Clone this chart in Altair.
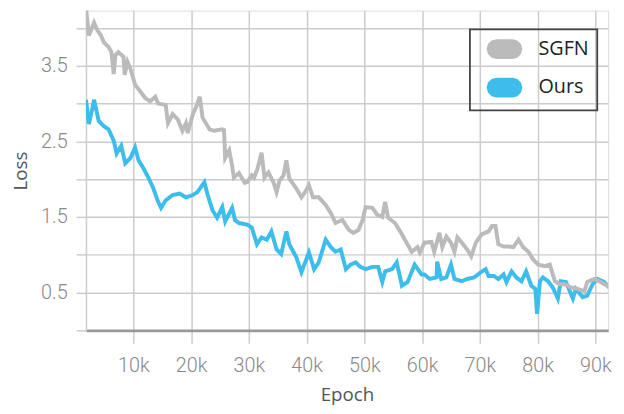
import altair as alt
import pandas as pd

# SGFN series (epoch in thousands, loss)
sgfn_epoch = [1.8, 2.3, 3.2, 3.7, 4.4, 4.9, 5.7, 6.2, 6.6, 6.9, 7.4, 8.3, 8.5, 9.0, 9.5, 10.3, 11.2, 12.1, 12.9, 13.8,
              14.3, 15.1, 15.6, 16.0, 16.8, 17.7, 18.5, 19.1, 19.4, 20.3, 20.9, 21.5, 22.0, 23.2, 24.0, 25.4, 25.7, 25.9,
              26.6, 27.1, 27.4, 28.3, 29.3, 29.7, 30.5, 30.9, 31.5, 32.2, 32.7, 33.4, 34.3, 34.8, 35.3, 36.0, 36.5, 37.0,
              38.2, 39.1, 39.9, 40.4, 41.1, 42.1, 43.3, 44.2, 45.0, 46.2, 47.3, 48.1, 49.0, 49.7, 50.2, 51.4, 52.2, 53.1,
              53.6, 54.1, 55.3, 56.2, 57.0, 58.2, 59.2, 59.6, 60.4, 61.6, 62.1, 63.0, 63.5, 64.2, 65.0, 65.6, 66.1, 66.9,
              67.8, 68.5, 69.3, 70.3, 71.5, 72.1, 72.7, 73.2, 74.1, 75.0, 75.8, 76.7, 77.5, 78.4, 79.2, 80.1, 81.3, 82.1,
              83.0, 83.8, 84.7, 85.7, 86.9, 88.1, 88.6, 89.8, 90.9, 92.1, 93.2]
sgfn_loss = [4.27, 3.90, 4.07, 3.98, 3.90, 3.81, 3.75, 3.68, 3.39, 3.64, 3.68, 3.62, 3.38, 3.55, 3.46, 3.25, 3.16, 3.07, 3.03, 3.09,
             3.00, 2.99, 2.98, 2.74, 2.86, 2.79, 2.64, 2.74, 2.61, 2.86, 2.96, 3.09, 2.81, 2.66, 2.64, 2.66, 2.65, 2.28,
             2.38, 2.18, 2.02, 2.08, 1.95, 1.96, 2.05, 2.02, 2.14, 2.35, 2.02, 2.09, 1.95, 1.83, 1.98, 2.05, 2.25, 2.01,
             1.88, 1.76, 1.85, 1.92, 1.76, 1.76, 1.66, 1.55, 1.42, 1.46, 1.33, 1.29, 1.33, 1.46, 1.63, 1.62, 1.53, 1.50,
             1.70, 1.49, 1.42, 1.31, 1.20, 1.04, 1.10, 1.03, 1.16, 1.17, 1.04, 1.29, 1.10, 1.24, 1.16, 1.04, 1.23, 1.16,
             1.07, 0.98, 1.16, 1.27, 1.31, 1.38, 1.38, 1.14, 1.11, 1.11, 1.10, 1.20, 1.10, 1.04, 0.94, 0.87, 0.85, 0.87,
             0.65, 0.61, 0.61, 0.57, 0.55, 0.52, 0.64, 0.68, 0.64, 0.59, 0.57]

# Ours series
ours_epoch = [1.8, 2.3, 2.8, 3.2, 4.0, 4.9, 5.7, 6.6, 7.1, 7.9, 8.6, 9.5, 10.3, 10.9, 11.7, 12.6, 13.4, 14.3, 14.8, 15.6,
              16.8, 18.0, 19.1, 20.3, 21.1, 22.3, 22.8, 23.7, 24.5, 25.4, 25.9, 27.1, 27.6, 28.3, 29.7, 30.5, 31.4, 32.2,
              33.1, 33.9, 34.8, 35.6, 36.5, 37.0, 38.2, 39.1, 39.6, 40.4, 41.3, 42.1, 43.3, 44.2, 45.0, 45.9, 46.8, 47.6,
              48.5, 49.3, 50.2, 51.4, 52.4, 53.1, 53.6, 54.8, 55.6, 56.5, 57.5, 58.7, 59.9, 60.4, 61.3, 62.5, 62.6, 63.3,
              64.2, 65.0, 65.6, 66.8, 67.8, 69.0, 70.2, 71.0, 71.5, 72.4, 73.2, 74.1, 74.6, 75.5, 76.3, 77.2, 78.0, 78.9,
              79.6, 79.9, 80.4, 80.9, 81.8, 82.6, 83.5, 84.0, 84.9, 86.1, 86.6, 87.8, 88.6, 89.5, 90.3, 91.5, 92.6, 93.4]
ours_loss = [3.05, 2.73, 2.90, 3.05, 2.77, 2.70, 2.66, 2.51, 2.34, 2.44, 2.21, 2.28, 2.42, 2.25, 2.15, 2.02, 1.89, 1.70, 1.62, 1.72,
             1.79, 1.81, 1.76, 1.79, 1.83, 1.96, 1.81, 1.59, 1.49, 1.63, 1.44, 1.62, 1.46, 1.42, 1.40, 1.36, 1.14, 1.23,
             1.20, 1.31, 1.07, 1.01, 1.31, 1.14, 0.97, 0.77, 0.87, 1.03, 0.81, 0.90, 1.20, 1.10, 1.04, 1.07, 0.81, 0.87,
             0.90, 0.84, 0.81, 0.84, 0.84, 0.64, 0.78, 0.81, 0.90, 0.59, 0.64, 0.87, 0.74, 0.74, 0.68, 0.70, 0.91, 0.68,
             0.70, 0.87, 0.68, 0.65, 0.68, 0.70, 0.77, 0.81, 0.72, 0.72, 0.68, 0.74, 0.64, 0.78, 0.70, 0.65, 0.78, 0.59,
             0.55, 0.22, 0.65, 0.70, 0.65, 0.57, 0.42, 0.65, 0.64, 0.42, 0.55, 0.44, 0.46, 0.61, 0.68, 0.64, 0.55, 0.46]

series_names = ["SGFN", "Ours"]
series_colors = ["#bbbbbb", "#3dbdec"]
x_ticks = [10, 20, 30, 40, 50, 60, 70, 80, 90]
y_ticks = [0, 0.5, 1.0, 1.5, 2.0, 2.5, 3.0, 3.5, 4.0]

df_sgfn = pd.DataFrame({"Epoch": sgfn_epoch, "Loss": sgfn_loss, "Series": "SGFN"})
df_ours = pd.DataFrame({"Epoch": ours_epoch, "Loss": ours_loss, "Series": "Ours"})


def pill_ring(h):
    # polygonal rounded-bar outline of half-height h (unit symbol coordinates)
    c = [1.0, 0.866, 0.5, 0.0]
    s = [0.0, 0.5, 0.866, 1.0]
    pts = []
    for i in range(3, -1, -1):
        pts.append((0.8 + h * c[i], -h * s[i]))
    for i in range(1, 4):
        pts.append((0.8 + h * c[i], h * s[i]))
    for i in range(3, -1, -1):
        pts.append((-0.8 - h * c[i], h * s[i]))
    for i in range(1, 4):
        pts.append((-0.8 - h * c[i], -h * s[i]))
    return "M" + " L".join(f"{x:.3f},{y:.3f}" for x, y in pts) + " Z"


# nested outlines drawn with a moderate stroke fill a solid rounded bar
pill = "M-0.8,0 L0.8,0 " + " ".join(
    pill_ring(h) for h in [0.1, 0.2, 0.3, 0.4, 0.5, 0.6, 0.7, 0.8, 0.875])

x_enc = alt.X("Epoch:Q",
              scale=alt.Scale(domain=[1.8, 92.2], nice=False, zero=False),
              axis=alt.Axis(values=x_ticks, labelExpr="datum.value + 'k'", title="Epoch",
                            domainColor="#999999", domainWidth=3,
                            tickColor="#cccccc", tickSize=13, tickWidth=1.5,
                            gridColor="#cccccc", gridWidth=1.5,
                            labelFontSize=20, labelColor="#888888", labelFont="Roboto",
                            labelFontWeight=300, labelPadding=13,
                            titleFontSize=19, titleColor="#555555", titleFont="Open Sans",
                            titleFontWeight="normal", titlePadding=10))
y_enc = alt.Y("Loss:Q",
              scale=alt.Scale(domain=[0, 4.23], nice=False),
              axis=alt.Axis(values=y_ticks,
                            labelExpr="datum.value % 1 == 0.5 ? format(datum.value, '.1f') : ''",
                            title="Loss", domainColor="#cccccc", domainWidth=1.5,
                            tickColor="#cccccc", tickSize=10, tickWidth=1.5,
                            gridColor="#cccccc", gridWidth=1.5,
                            labelFontSize=20, labelColor="#888888", labelFont="Roboto",
                            labelFontWeight=300, labelPadding=9,
                            titleFontSize=19, titleColor="#555555", titleFont="Open Sans",
                            titleFontWeight="normal", titlePadding=10))
color_enc = alt.Color("Series:N",
                      scale=alt.Scale(domain=series_names, range=series_colors),
                      legend=alt.Legend(title=None, orient="none", legendX=389, legendY=19,
                                        symbolType=pill, symbolSize=400, symbolStrokeWidth=2.6,
                                        symbolOpacity=1, symbolOffset=15,
                                        labelFontSize=20, labelFont="Open Sans", labelColor="#222222",
                                        labelOffset=23, rowPadding=10, padding=8.5,
                                        strokeColor="#444444"))

ours_layer = alt.Chart(df_ours).mark_line(clip=True, strokeJoin="miter").encode(
    x=x_enc, y=y_enc, color=color_enc, strokeWidth=alt.value(4))
sgfn_layer = alt.Chart(df_sgfn).mark_line(clip=True, strokeJoin="miter").encode(
    x=x_enc, y=y_enc, color=color_enc, strokeWidth=alt.value(4))

chart = alt.layer(ours_layer, sgfn_layer).properties(
    width=529, height=324,
    autosize=alt.AutoSizeParams(type="none"),
    padding={"left": 79, "top": 0, "right": 8, "bottom": 74},
).configure_view(stroke=None).configure(background="white").configure_legend(strokeWidth=1.8)

chart.save("out.html", embed_options={"renderer": "svg", "actions": False})
